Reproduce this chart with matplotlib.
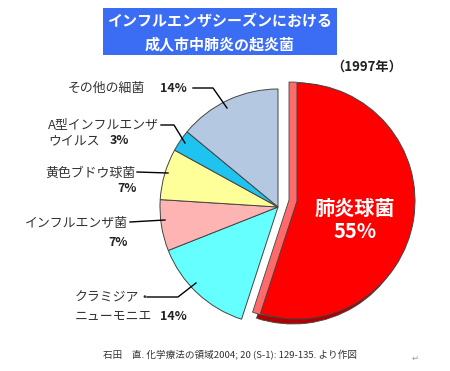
import matplotlib
matplotlib.use("Agg")
import matplotlib.pyplot as plt
from matplotlib.patches import Rectangle, Wedge

plt.rcParams['font.family'] = ['Noto Sans CJK JP', 'DejaVu Sans']

# ---- data ----
categories = ['肺炎球菌', 'クラミジア・\nニューモニエ', 'インフルエンザ菌', '黄色ブドウ球菌',
              'A型インフルエンザ\nウイルス', 'その他の細菌']
values = [55, 14, 7, 7, 3, 14]
colors = ['#FF0000', '#66FFFF', '#FFB4B4', '#FFFF99', '#1EC3F0', '#B4C8E1']
title_lines = ['インフルエンザシーズンにおける', '成人市中肺炎の起炎菌']
year_label = '（1997年）'
source = '石田　直. 化学療法の領域2004; 20 (S-1): 129-135. より作図'

W, H = 450, 371
def Y(y):
    return H - y

fig = plt.figure(figsize=(W / 100, H / 100), dpi=100)
ax = fig.add_axes([0, 0, 1, 1])

cx, cy, R = 278, Y(207), 118
wedges, _ = ax.pie(values, colors=colors, startangle=90, counterclock=False,
                   radius=R, center=(cx, cy), explode=[0.16, 0, 0, 0, 0, 0],
                   wedgeprops=dict(edgecolor='#444444', linewidth=0.7))

# exploded red slice with 3D-like faces
red = wedges[0]
rc = (297, Y(201))
red.set_center(rc)
red.set_zorder(5)
for dx, dy, col, z in [(-4, -5, '#B00000', 3), (-8, 1, '#FF6A6A', 4)]:
    w = Wedge((rc[0] + dx, rc[1] + dy), red.r, red.theta1, red.theta2,
              facecolor=col, edgecolor='#444444', linewidth=0.6, zorder=z)
    ax.add_patch(w)

ax.set_xlim(0, W)
ax.set_ylim(0, H)
ax.set_aspect('equal')
ax.axis('off')

# title box
ax.add_patch(Rectangle((103, Y(55)), 234, 47, facecolor='#3A6CF4', edgecolor='none', zorder=6))
ax.text(220, Y(21), title_lines[0], color='white', fontsize=10.8, fontweight='bold',
        ha='center', va='center', zorder=7)
ax.text(220, Y(44), title_lines[1], color='white', fontsize=10.8, fontweight='bold',
        ha='center', va='center', zorder=7)
ax.text(367, Y(67), year_label, color='#222222', fontsize=9.5, fontweight='bold',
        ha='center', va='center')

# inside label
ax.text(355, Y(208), categories[0], color='white', fontsize=14.5, fontweight='bold',
        ha='center', va='center', zorder=8)
ax.text(355, Y(232), f'{values[0]}%', color='white', fontsize=14.5, fontweight='bold',
        ha='center', va='center', zorder=8)

lab_c = '#333333'
fs = 9.3
pfs = 9
# その他の細菌
ax.text(68, Y(88), categories[5], color=lab_c, fontsize=fs, ha='left', va='center')
ax.text(160, Y(88), f'{values[5]}%', color='#222222', fontsize=pfs, fontweight='bold', ha='left', va='center')
ax.plot([193, 213, 227], [Y(88), Y(88), Y(108)], color='black', lw=1)
# A型
a1, a2 = categories[4].split('\n')
ax.text(48, Y(125), a1, color=lab_c, fontsize=fs, ha='left', va='center')
ax.text(48, Y(141), a2, color=lab_c, fontsize=fs, ha='left', va='center')
ax.text(110, Y(141), f'{values[4]}%', color='#222222', fontsize=pfs, fontweight='bold', ha='left', va='center')
ax.plot([161, 174, 185], [Y(125), Y(125), Y(143)], color='black', lw=1)
# 黄色ブドウ球菌
ax.text(45, Y(173), categories[3], color=lab_c, fontsize=fs, ha='left', va='center')
ax.text(117, Y(189), f'{values[3]}%', color='#222222', fontsize=pfs, fontweight='bold', ha='left', va='center')
ax.plot([137, 168], [Y(172), Y(173)], color='black', lw=1)
# インフルエンザ菌
ax.text(25, Y(223), categories[2], color=lab_c, fontsize=fs, ha='left', va='center')
ax.text(108, Y(242), f'{values[2]}%', color='#222222', fontsize=pfs, fontweight='bold', ha='left', va='center')
ax.plot([130, 165], [Y(222), Y(220)], color='black', lw=1)
# クラミジア
c1, c2 = categories[1].split('\n')
ax.text(75, Y(298), c1, color=lab_c, fontsize=fs, ha='left', va='center')
ax.text(75, Y(316), c2, color=lab_c, fontsize=fs, ha='left', va='center')
ax.text(160, Y(316), f'{values[1]}%', color='#222222', fontsize=pfs, fontweight='bold', ha='left', va='center')
ax.plot([147, 178, 196], [Y(297), Y(297), Y(283)], color='black', lw=1)

# footer
ax.text(103, Y(355), source, color='#333333', fontsize=6.9, ha='left', va='center')
ax.text(415, Y(358), '↵', color='#999999', fontsize=6, ha='center', va='center')

fig.savefig('out.png', dpi=100)
